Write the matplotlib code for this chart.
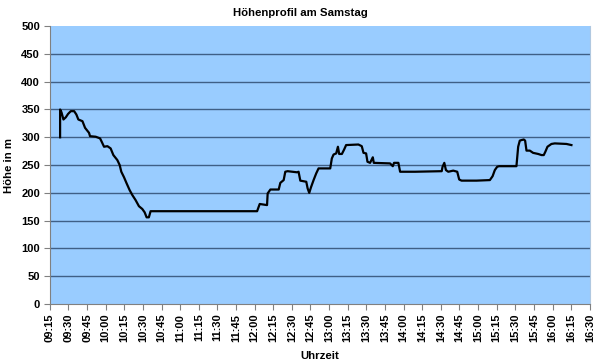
import matplotlib
matplotlib.use("Agg")
import matplotlib.pyplot as plt

# === DATA ===
# time in minutes after 09:15, height in metres
minutes = [
    8.3, 8.3, 9.4, 11.0, 12.9, 14.7, 16.9, 19.6, 21.4, 23.0, 26.3, 28.4,
    31.6, 32.4, 37.0, 40.5, 41.8, 43.7, 46.4, 49.0, 51.2, 54.4, 56.3, 57.6,
    59.8, 61.9, 64.3, 66.5, 69.1, 71.8, 74.5, 76.4, 78.0, 79.8, 81.2,
    167.0, 169.1, 175.0, 175.5, 177.7, 184.4, 185.7, 188.4, 189.7, 191.6,
    199.1, 200.4, 201.8, 206.6, 207.7, 209.0, 210.4, 212.5, 214.6, 216.5,
    225.9, 227.2, 228.6, 230.7, 232.1, 233.1, 235.3, 237.1, 238.7, 248.6,
    251.3, 252.7, 254.8, 255.9, 258.0, 260.2, 261.0, 274.1, 276.3, 277.3,
    280.8, 282.2, 294.2, 315.7, 316.4, 317.8, 319.1, 321.0, 325.0, 328.2,
    329.8, 331.7, 343.8, 354.5, 356.7, 358.5, 360.4, 362.0, 374.6, 375.9,
    377.3, 378.6, 380.0, 381.8, 382.9, 384.0, 386.7, 389.3, 393.4, 396.1,
    397.9, 399.2, 400.9, 404.1, 406.8, 416.2, 420.2,
]
height = [
    300, 350, 345, 332, 336, 342, 347, 347, 341, 332, 329, 317,
    308, 302, 301, 298, 292, 283, 284, 280, 268, 259, 250, 238,
    228, 217, 205, 196, 187, 176, 171, 165, 156, 156, 167,
    167, 180, 178, 199, 206, 206, 218, 223, 238, 239,
    237, 238, 222, 220, 208, 200, 210, 223, 235, 244,
    244, 262, 269, 271, 283, 270, 270, 278, 286, 287,
    284, 272, 271, 256, 254, 264, 254, 253, 248, 254,
    254, 238, 238, 239, 247, 254, 241, 238, 240, 238,
    224, 222, 222, 223, 230, 241, 247, 248, 248, 248,
    283, 294, 295, 296, 294, 276, 276, 272, 270, 268,
    268, 274, 283, 288, 289, 288, 286,
]

tick_labels = ["09:15", "09:30", "09:45", "10:00", "10:15", "10:30", "10:45",
               "11:00", "11:15", "11:30", "11:45", "12:00", "12:15", "12:30",
               "12:45", "13:00", "13:15", "13:30", "13:45", "14:00", "14:15",
               "14:30", "14:45", "15:00", "15:15", "15:30", "15:45", "16:00",
               "16:15", "16:30"]

# === FIGURE ===
plt.rcParams["font.family"] = ["Liberation Sans", "DejaVu Sans"]
plt.rcParams["font.weight"] = "bold"

fig = plt.figure(figsize=(6, 3.63), dpi=100)
ax = fig.add_axes([0.083, 0.1625, 0.9, 0.7655])
ax.set_facecolor("#99ccff")

for y in range(50, 500, 50):
    ax.axhline(y, color="#3f5f86", linewidth=1.0, zorder=1)

ax.plot(minutes, height, color="black", linewidth=1.6, zorder=3)

ax.set_xlim(0, 435)
ax.set_ylim(0, 500)
ax.set_xticks(range(0, 436, 15))
ax.set_xticklabels(tick_labels, rotation=90, fontsize=8, fontweight="bold")
ax.set_yticks(range(0, 501, 50))
ax.set_yticklabels([str(v) for v in range(0, 501, 50)], fontsize=8, fontweight="bold")
ax.tick_params(length=4, width=0.8, color="#808080", pad=3)

ax.spines["top"].set_visible(False)
ax.spines["left"].set_color("#808080")
ax.spines["bottom"].set_color("#808080")
ax.spines["right"].set_color("#b0c8e0")

fig.text(0.5, 0.965, "Höhenprofil am Samstag", ha="center", va="center",
         fontsize=8.2, fontweight="bold")
ax.set_xlabel("Uhrzeit", fontsize=8.2, fontweight="bold", labelpad=6)
ax.set_ylabel("Höhe in m", fontsize=8.2, fontweight="bold", labelpad=5)

fig.savefig("out.png", dpi=100)
